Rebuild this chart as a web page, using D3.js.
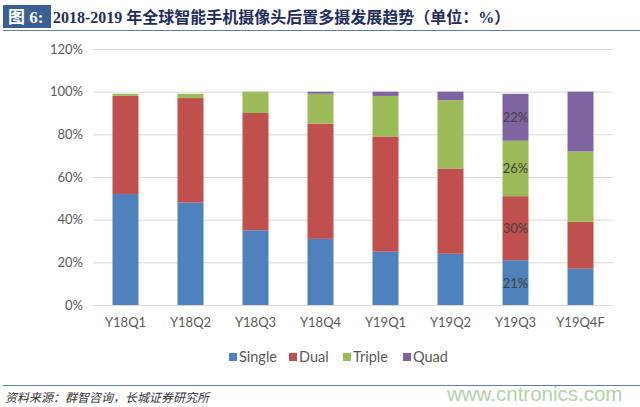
<!DOCTYPE html>
<html>
<head>
<meta charset="utf-8">
<script src="https://cdn.jsdelivr.net/npm/d3@7"></script>
<style>
  body { margin: 0; background: #fff; }
</style>
</head>
<body>
<svg width="640" height="407"></svg>
<script>
var quarters = ["Y18Q1", "Y18Q2", "Y18Q3", "Y18Q4", "Y19Q1", "Y19Q2", "Y19Q3", "Y19Q4F"];
var single = [52, 48, 35, 31, 25, 24, 21, 17];
var dual   = [46, 49, 55, 54, 54, 40, 30, 22];
var triple = [1, 2, 10, 14, 19, 32, 26, 33];
var quad   = [0, 0, 0, 1, 2, 4, 22, 28];
var seriesNames = ["Single", "Dual", "Triple", "Quad"];
var yTicks = [0, 20, 40, 60, 80, 100, 120];
var labelled = "Y19Q3"; // only this bar has value labels

var colors = ["#4f81bd", "#c0504d", "#9bbb59", "#8064a2"];

var svg = d3.select("svg");

// title bar
svg.append("rect").attr("x", 3).attr("y", 5).attr("width", 48).attr("height", 23).attr("fill", "#3a5f94");
svg.append("text").attr("x", 8).attr("y", 23)
   .attr("font-family", "Liberation Serif, Noto Sans CJK SC").attr("font-weight", "bold")
   .attr("font-size", "17px").attr("fill", "#fff").text("图 6:");
svg.append("text").attr("x", 53).attr("y", 23)
   .attr("font-family", "Liberation Serif, Noto Sans CJK SC").attr("font-weight", "bold")
   .attr("font-size", "16px").attr("fill", "#1f2d5c")
   .text("2018-2019 年全球智能手机摄像头后置多摄发展趋势（单位：%）");
svg.append("line").attr("x1", 3).attr("x2", 640).attr("y1", 30.5).attr("y2", 30.5)
   .attr("stroke", "#5f7ea6").attr("stroke-width", 1.2);

var margin = {left: 93, top: 49},
    width = 520, height = 256;

var g = svg.append("g").attr("transform", "translate(" + margin.left + "," + margin.top + ")");

var x = d3.scaleBand().domain(quarters).range([0, width]).paddingInner(0.6).paddingOuter(0.3);
var y = d3.scaleLinear().domain([0, 120]).range([height, 0]);

// gridlines + y axis
g.append("g")
 .call(d3.axisLeft(y).tickValues(yTicks).tickSize(-width).tickPadding(10).tickFormat(function(d) { return d + "%"; }))
 .call(function(a) { a.select(".domain").remove(); })
 .call(function(a) {
   a.selectAll("line").attr("stroke", "#d9d9d9");
   a.selectAll("text").attr("font-family", "Lato, Open Sans, sans-serif").attr("font-size", "13px").attr("fill", "#595959");
 });

var rows = quarters.map(function(q, i) {
  return {q: q, Single: single[i], Dual: dual[i], Triple: triple[i], Quad: quad[i]};
});
var stack = d3.stack().keys(seriesNames)(rows);

var layers = g.selectAll(".layer").data(stack).enter().append("g")
  .attr("class", "layer").attr("fill", function(d, i) { return colors[i]; });

layers.selectAll("rect").data(function(d) { return d; }).enter().append("rect")
  .attr("x", function(d) { return x(d.data.q); })
  .attr("y", function(d) { return y(d[1]); })
  .attr("width", x.bandwidth())
  .attr("height", function(d) { return y(d[0]) - y(d[1]); });

// value labels on Y19Q3
layers.selectAll(".lbl").data(function(d) { return d.filter(function(p) { return p.data.q == labelled; }); })
  .enter().append("text")
  .attr("x", function(d) { return x(d.data.q) + x.bandwidth() / 2; })
  .attr("y", function(d) { return (y(d[0]) + y(d[1])) / 2 + 5; })
  .attr("text-anchor", "middle")
  .attr("font-family", "Lato, Open Sans, sans-serif").attr("font-size", "13px").attr("fill", "#404040")
  .text(function(d) { return (d[1] - d[0]) + "%"; });

// x axis
g.append("g").attr("transform", "translate(0," + height + ")")
 .call(d3.axisBottom(x).tickSize(0).tickPadding(13))
 .call(function(a) {
   a.select(".domain").attr("stroke", "#d9d9d9");
   a.selectAll("text").attr("font-family", "Lato, Open Sans, sans-serif").attr("font-size", "13px").attr("fill", "#595959");
 });

// legend
var legendX = [229, 289, 343, 403];
var legend = svg.selectAll(".legend").data(seriesNames).enter().append("g")
  .attr("transform", function(d, i) { return "translate(" + legendX[i] + ",357)"; });
legend.append("rect").attr("x", 0).attr("y", -4).attr("width", 8).attr("height", 8)
  .attr("fill", function(d, i) { return colors[i]; });
legend.append("text").attr("x", 10).attr("y", 5)
  .attr("font-family", "Lato, Open Sans, sans-serif").attr("font-size", "14.5px").attr("fill", "#595959")
  .text(function(d) { return d; });

// footer
svg.append("line").attr("x1", 3).attr("x2", 640).attr("y1", 385.5).attr("y2", 385.5)
   .attr("stroke", "#5f7ea6").attr("stroke-width", 1);
svg.append("text").attr("x", 5).attr("y", 402)
   .attr("font-family", "Noto Sans CJK SC").attr("font-style", "italic")
   .attr("font-size", "12px").attr("fill", "#333")
   .text("资料来源：群智咨询，长城证券研究所");
svg.append("text").attr("x", 447).attr("y", 401)
   .attr("font-family", "Liberation Sans, Arial, sans-serif").attr("font-size", "20.5px").attr("fill", "#b3d1ad")
   .text("www.cntronics.com");
</script>
</body>
</html>
